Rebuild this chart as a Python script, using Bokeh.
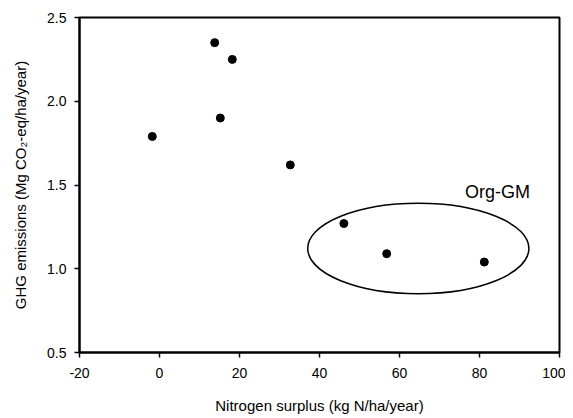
from bokeh.plotting import figure
from bokeh.models import Range1d, FixedTicker, ColumnDataSource
from bokeh.core.properties import value
from bokeh.embed import file_html
from bokeh.resources import INLINE

n_surplus = [13.8, 18.2, 15.2, -1.8, 32.7, 46.1, 56.8, 81.2]
ghg = [2.35, 2.25, 1.90, 1.79, 1.62, 1.27, 1.09, 1.04]
x_ticks = [-20, 0, 20, 40, 60, 80, 100]
y_ticks = [0.5, 1.0, 1.5, 2.0, 2.5]

group_label = ["Org-GM"]
group_x = [64.7]
group_y = [1.121]
group_w = [55.3]
group_h = [0.54]
label_x = [84.5]
label_y = [1.46]

FONT = "Liberation Sans"

p = figure(width=565, height=417, output_backend="svg", toolbar_location=None,
           x_range=Range1d(-20, 100), y_range=Range1d(0.5, 2.5),
           min_border_left=79, min_border_right=6, min_border_top=17, min_border_bottom=65)

p.xgrid.visible = False
p.ygrid.visible = False
p.outline_line_color = "black"
p.outline_line_width = 2
p.background_fill_color = "white"
p.border_fill_color = "white"

for ax in (p.xaxis[0], p.yaxis[0]):
    ax.axis_line_width = 2
    ax.axis_line_color = "black"
    ax.major_tick_line_width = 1.5
    ax.major_tick_line_color = "black"
    ax.major_tick_out = 5
    ax.major_tick_in = 0
    ax.minor_tick_out = 0
    ax.minor_tick_in = 0
    ax.major_label_text_font = FONT
    ax.major_label_text_font_size = "14px"
    ax.major_label_text_color = "black"
    ax.axis_label_text_font = FONT
    ax.axis_label_text_font_size = "15px"
    ax.axis_label_text_font_style = "normal"
    ax.axis_label_text_color = "black"

p.xaxis.ticker = FixedTicker(ticks=x_ticks)
p.yaxis.ticker = FixedTicker(ticks=y_ticks)
p.xaxis.major_label_overrides = {t: str(t) for t in x_ticks}
p.yaxis.major_label_overrides = {t: f"{t:.1f}" for t in y_ticks}
p.xaxis.axis_label = "Nitrogen surplus (kg N/ha/year)"
p.yaxis.axis_label = "GHG emissions (Mg CO\u2082-eq/ha/year)"
p.xaxis.major_label_standoff = 10
p.xaxis.axis_label_standoff = 16
p.yaxis.major_label_standoff = 8
p.yaxis.axis_label_standoff = 15

src = ColumnDataSource(dict(x=n_surplus, y=ghg))
p.scatter("x", "y", source=src, size=8, color="black", marker="circle")

p.ellipse(x=group_x, y=group_y, width=group_w, height=group_h,
          fill_color=None, line_color="black", line_width=1.5)
p.text(x=label_x, y=label_y, text=group_label, text_font=value(FONT),
       text_font_size="18px", text_align="center", text_baseline="middle",
       text_color="black")

open("out.html", "w").write(file_html(p, INLINE))
